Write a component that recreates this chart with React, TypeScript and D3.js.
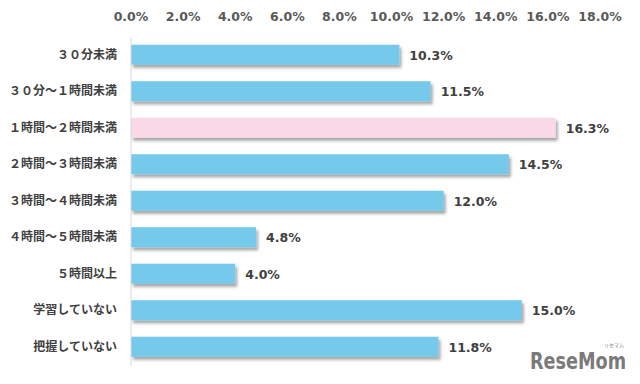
import React from 'react';
import * as d3 from 'd3';

const categories = [
  '３０分未満',
  '３０分～１時間未満',
  '１時間～２時間未満',
  '２時間～３時間未満',
  '３時間～４時間未満',
  '４時間～５時間未満',
  '５時間以上',
  '学習していない',
  '把握していない',
];
const values = [10.3, 11.5, 16.3, 14.5, 12.0, 4.8, 4.0, 15.0, 11.8];
const highlighted = ['１時間～２時間未満'];
const ticks = [0, 2, 4, 6, 8, 10, 12, 14, 16, 18];

const W = 640;
const H = 384;
const numFont = '"DejaVu Sans", Verdana, sans-serif';
const jpFont = '"Noto Sans CJK JP", sans-serif';

const App: React.FC = () => {
  const x = d3.scaleLinear().domain([0, 18]).range([131, 600]);
  const y = d3.scaleBand<string>().domain(categories).range([36.5, 365]).paddingInner(0.45).paddingOuter(0.225);

  return (
    <svg width={W} height={H} style={{ position: 'absolute', left: 0, top: 0, background: '#fff' }}>
      <defs>
        <filter id="shadow" x="-5%" y="-30%" width="115%" height="190%">
          <feDropShadow dx="2" dy="3" stdDeviation="1.5" floodColor="#000" floodOpacity="0.35" />
        </filter>
      </defs>

      {/* top axis tick labels */}
      {ticks.map(t => (
        <text
          key={t}
          x={x(t)}
          y={21}
          textAnchor="middle"
          fontFamily={numFont}
          fontWeight="bold"
          fontSize={12.5}
          fill="#595959"
        >
          {d3.format('.1f')(t) + '%'}
        </text>
      ))}

      {/* bars */}
      {categories.map((c, i) => (
        <rect
          key={c}
          x={x(0)}
          y={y(c)}
          width={x(values[i]) - x(0)}
          height={y.bandwidth()}
          fill={highlighted.includes(c) ? '#f9d9e8' : '#75c9ea'}
          filter="url(#shadow)"
        />
      ))}

      {/* axis line */}
      <line x1={x(0)} x2={x(0)} y1={37} y2={366} stroke="#d9d9d9" strokeWidth={1} />

      {/* category labels */}
      {categories.map(c => (
        <text
          key={c}
          x={117}
          y={(y(c) ?? 0) + y.bandwidth() / 2}
          dy="0.35em"
          textAnchor="end"
          fontFamily={jpFont}
          fontWeight="bold"
          fontSize={12}
          fill="#404040"
        >
          {c}
        </text>
      ))}

      {/* value labels */}
      {categories.map((c, i) => (
        <text
          key={c}
          x={x(values[i]) + 10}
          y={(y(c) ?? 0) + y.bandwidth() / 2}
          dy="0.4em"
          fontFamily={numFont}
          fontWeight="bold"
          fontSize={12.5}
          fill="#404040"
        >
          {d3.format('.1f')(values[i]) + '%'}
        </text>
      ))}

      {/* watermark */}
      <text x={530} y={369} fontFamily={'"Liberation Sans Narrow", "DejaVu Sans Condensed", sans-serif'} fontWeight="bold" fontSize={23} fill="#7a7a7a" textLength={96} lengthAdjust="spacingAndGlyphs">
        ReseMom
      </text>
      <text x={604} y={347} fontFamily={jpFont} fontSize={5} fill="#7a7a7a">
        リセマム
      </text>
    </svg>
  );
};

export default App;
